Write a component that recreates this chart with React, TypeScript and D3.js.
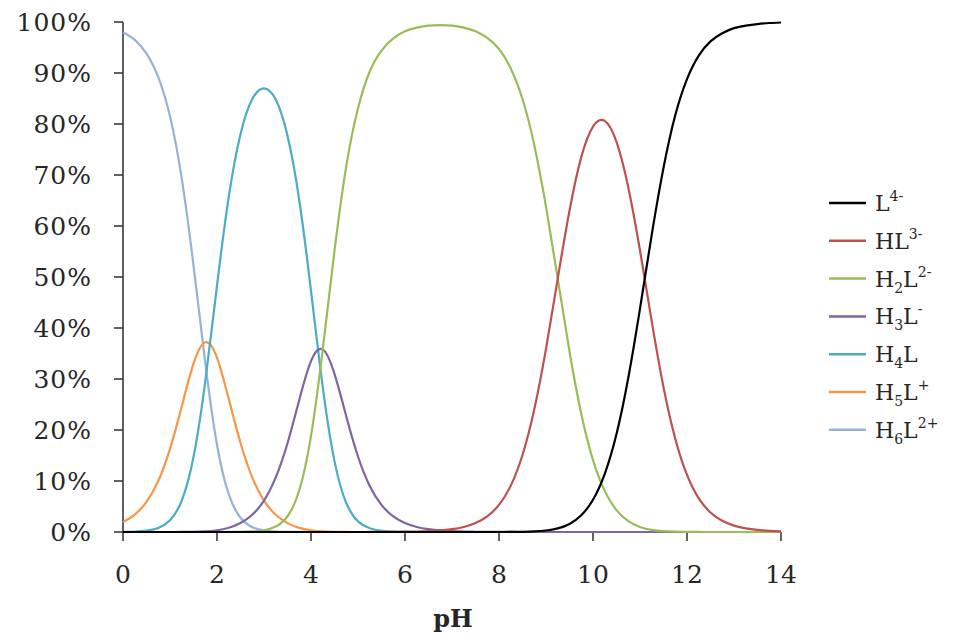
import React from "react";
import * as d3 from "d3";

// pH grid (x values)
const pH = [
  0, 0.25, 0.5, 0.75, 1, 1.25, 1.5, 1.75, 2, 2.25, 2.5, 2.75, 3, 3.25, 3.5, 3.75,
  4, 4.25, 4.5, 4.75, 5, 5.25, 5.5, 5.75, 6, 6.25, 6.5, 6.75, 7, 7.25, 7.5, 7.75,
  8, 8.25, 8.5, 8.75, 9, 9.25, 9.5, 9.75, 10, 10.25, 10.5, 10.75, 11, 11.25, 11.5, 11.75,
  12, 12.25, 12.5, 12.75, 13, 13.25, 13.5, 13.75, 14,
];

// species fractions (%), one value per pH point
const L4 = [
  0, 0, 0, 0, 0, 0, 0, 0, 0, 0, 0, 0, 0, 0, 0, 0,
  0, 0, 0, 0, 0, 0, 0, 0, 0, 0, 0, 0, 0, 0, 0, 0,
  0, 0.01, 0.04, 0.11, 0.29, 0.7, 1.58, 3.28, 6.32, 11.4, 19.2, 30.2, 43.8, 58.3, 71.4, 81.7,
  88.8, 93.4, 96.2, 97.8, 98.8, 99.3, 99.6, 99.8, 99.9,
];
const HL3 = [
  0, 0, 0, 0, 0, 0, 0, 0, 0, 0, 0, 0, 0, 0, 0, 0,
  0, 0, 0, 0, 0, 0.01, 0.02, 0.03, 0.06, 0.1, 0.18, 0.31, 0.56, 0.99, 1.75, 3.06,
  5.32, 9.09, 15.1, 24.0, 35.9, 49.7, 63.0, 73.5, 79.5, 80.6, 76.5, 67.6, 55.2, 41.3, 28.4, 18.3,
  11.2, 6.61, 3.83, 2.19, 1.24, 0.7, 0.4, 0.22, 0.13,
];
const H2L2 = [
  0, 0, 0, 0, 0, 0, 0, 0, 0, 0.01, 0.03, 0.11, 0.35, 1.07, 3.09, 8.19,
  18.8, 35.8, 55.1, 71.7, 83.1, 90.3, 94.4, 96.8, 98.2, 98.9, 99.3, 99.4, 99.3, 98.9, 98.2, 96.9,
  94.7, 90.9, 84.9, 75.9, 63.8, 49.7, 35.4, 23.2, 14.1, 8.06, 4.3, 2.14, 0.98, 0.41, 0.16, 0.06,
  0.02, 0.01, 0, 0, 0, 0, 0, 0, 0,
];
const H3L = [
  0, 0, 0, 0, 0, 0.01, 0.03, 0.12, 0.34, 0.83, 1.75, 3.38, 6.16, 10.7, 17.4, 25.9,
  33.5, 35.8, 31.0, 22.7, 14.8, 9.03, 5.31, 3.06, 1.75, 0.99, 0.56, 0.31, 0.18, 0.1, 0.05, 0.03,
  0.02, 0.01, 0, 0, 0, 0, 0, 0, 0, 0, 0, 0, 0, 0, 0, 0,
  0, 0, 0, 0, 0, 0, 0, 0, 0,
];
const H4L = [
  0.03, 0.09, 0.26, 0.79, 2.3, 6.17, 14.7, 29.5, 48.3, 65.7, 78.0, 84.9, 87.0, 84.8, 77.7, 65.1,
  47.3, 28.4, 13.9, 5.69, 2.09, 0.72, 0.24, 0.08, 0.02, 0, 0, 0, 0, 0, 0, 0,
  0, 0, 0, 0, 0, 0, 0, 0, 0, 0, 0, 0, 0, 0, 0, 0,
  0, 0, 0, 0, 0, 0, 0, 0, 0,
];
const H5L = [
  1.96, 3.42, 5.92, 10.0, 16.3, 24.6, 33.0, 37.2, 34.2, 26.1, 17.5, 10.7, 6.16, 3.37, 1.74, 0.82,
  0.34, 0.11, 0.03, 0.01, 0, 0, 0, 0, 0, 0, 0, 0, 0, 0, 0, 0,
  0, 0, 0, 0, 0, 0, 0, 0, 0, 0, 0, 0, 0, 0, 0, 0,
  0, 0, 0, 0, 0, 0, 0, 0, 0,
];
const H6L = [
  98.0, 96.5, 93.8, 89.2, 81.5, 69.3, 52.3, 33.2, 17.1, 7.4, 2.8, 0.95, 0.31, 0.1, 0.03, 0.01,
  0, 0, 0, 0, 0, 0, 0, 0, 0, 0, 0, 0, 0, 0, 0, 0,
  0, 0, 0, 0, 0, 0, 0, 0, 0, 0, 0, 0, 0, 0, 0, 0,
  0, 0, 0, 0, 0, 0, 0, 0, 0,
];

const xTicks = [0, 2, 4, 6, 8, 10, 12, 14];
const yTicks = [0, 10, 20, 30, 40, 50, 60, 70, 80, 90, 100];

type Part = { t: string; k?: "sub" | "sup" };
const seriesNames: Part[][] = [
  [{ t: "L" }, { t: "4-", k: "sup" }],
  [{ t: "HL" }, { t: "3-", k: "sup" }],
  [{ t: "H" }, { t: "2", k: "sub" }, { t: "L" }, { t: "2-", k: "sup" }],
  [{ t: "H" }, { t: "3", k: "sub" }, { t: "L" }, { t: "-", k: "sup" }],
  [{ t: "H" }, { t: "4", k: "sub" }, { t: "L" }],
  [{ t: "H" }, { t: "5", k: "sub" }, { t: "L" }, { t: "+", k: "sup" }],
  [{ t: "H" }, { t: "6", k: "sub" }, { t: "L" }, { t: "2+", k: "sup" }],
];
const seriesValues = [L4, HL3, H2L2, H3L, H4L, H5L, H6L];
const seriesColors = ["#000000", "#c0504d", "#9bbb59", "#8064a2", "#4bacc6", "#f79646", "#95b3d7"];

export default function App() {
  const W = 953, H = 640;
  const x = d3.scaleLinear().domain([0, 14]).range([123, 781]);
  const y = d3.scaleLinear().domain([0, 100]).range([532, 22]);
  const line = d3
    .line<number>()
    .x((_, i) => x(pH[i]))
    .y((d) => y(d))
    .curve(d3.curveNatural);

  const axisColor = "#3a3a3a";
  const textColor = "#262626";
  const font = "'DejaVu Serif', serif";

  const order = [6, 5, 4, 3, 2, 1, 0];

  return (
    <svg width={W} height={H} style={{ position: "fixed", left: 0, top: 0, background: "#fff" }}>
      <rect width={W} height={H} fill="#fff" />
      {/* y axis */}
      <line x1={x(0)} x2={x(0)} y1={y(100)} y2={y(0)} stroke={axisColor} strokeWidth={1.6} />
      {yTicks.map((t) => (
        <g key={"y" + t}>
          <line x1={x(0) - 9} x2={x(0)} y1={y(t)} y2={y(t)} stroke={axisColor} strokeWidth={1.6} />
          <text x={92} y={y(t) + 9} textAnchor="end" fontFamily={font} fontSize={25} letterSpacing={1} fill={textColor}>
            {t}%
          </text>
        </g>
      ))}
      {/* x axis */}
      <line x1={x(0)} x2={x(14)} y1={y(0)} y2={y(0)} stroke={axisColor} strokeWidth={1.6} />
      {xTicks.map((t) => (
        <g key={"x" + t}>
          <line x1={x(t)} x2={x(t)} y1={y(0)} y2={y(0) + 9} stroke={axisColor} strokeWidth={1.6} />
          <text x={x(t)} y={583} textAnchor="middle" fontFamily={font} fontSize={25} fill={textColor}>
            {t}
          </text>
        </g>
      ))}
      <text x={453} y={627} textAnchor="middle" fontFamily={font} fontSize={24} fontWeight="bold" fill={textColor}>
        pH
      </text>
      {/* curves */}
      {order.map((i) => (
        <path key={"s" + i} d={line(seriesValues[i]) || ""} fill="none" stroke={seriesColors[i]} strokeWidth={2.2} />
      ))}
      {/* legend */}
      {seriesNames.map((parts, i) => {
        const cy = 203 + i * 37.8;
        let shift = 0;
        return (
          <g key={"l" + i}>
            <line x1={829} x2={866} y1={cy} y2={cy} stroke={seriesColors[i]} strokeWidth={2.5} />
            <text x={875} y={cy + 8} fontFamily={font} fontSize={22} fill={textColor}>
              {parts.map((p, j) => {
                const target = p.k === "sub" ? 6 : p.k === "sup" ? -10 : 0;
                const dy = target - shift;
                shift = target;
                return (
                  <tspan key={j} dy={dy} fontSize={p.k ? 14 : 22}>
                    {p.t}
                  </tspan>
                );
              })}
            </text>
          </g>
        );
      })}
    </svg>
  );
}
